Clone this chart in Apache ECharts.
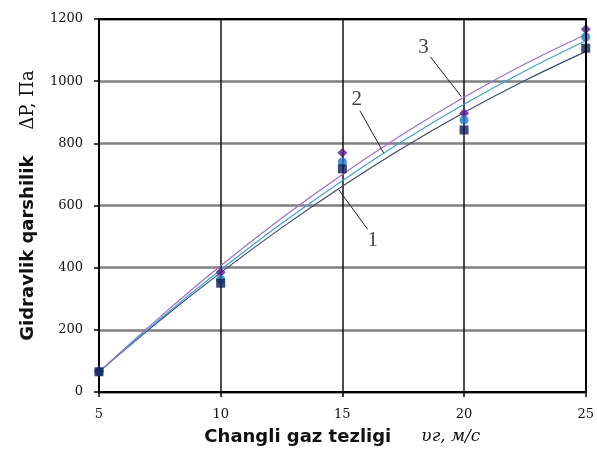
<!DOCTYPE html>
<html>
<head>
<meta charset="utf-8">
<script src="https://cdn.jsdelivr.net/npm/echarts@6/dist/echarts.min.js"></script>
<style>html,body{margin:0;padding:0;background:#fff}#c{width:597px;height:459px}</style>
</head>
<body>
<div id="c"></div>
<script>
// Measured points (x = gas velocity, m/s)
const xPoints = [5, 10, 15, 20, 25];
const pts1 = [65, 350, 718, 843, 1106];   // squares (1)
const pts2 = [65, 362, 740, 875, 1142];   // circles (2)
const pts3 = [68, 385, 770, 897, 1167];   // diamonds (3)

// Trend curves
const xCurve = [5, 7.5, 10, 12.5, 15, 17.5, 20, 22.5, 25];
const curve1 = [65, 230, 384, 528, 662, 786, 899, 1002, 1095];
const curve2 = [65, 234, 393, 542, 680, 808, 926, 1033, 1130];
const curve3 = [65, 241, 406, 559, 700, 830, 948, 1055, 1150];

// Curve labels and their leader lines (data units)
const labelNames = ['1', '2', '3'];
const labelPos = [[16.25, 489], [15.59, 940], [18.33, 1107]];
const leaderFrom = [[16.04, 523], [15.72, 905], [18.62, 1078]];
const leaderTo = [[14.86, 650], [16.70, 769], [19.89, 950]];

const xTicks = {min: 5, max: 25, interval: 5};
const yTicks = {min: 0, max: 1200, interval: 200};

const zip = (xs, ys) => xs.map((x, i) => [x, ys[i]]);

const chart = echarts.init(document.getElementById('c'), null, {renderer: 'canvas'});
const serif = '"DejaVu Serif", "Liberation Serif", serif';
const sans = '"DejaVu Sans", sans-serif';
const plain = v => String(v);

chart.setOption({
  animation: false,
  backgroundColor: '#fff',
  grid: {left: 99, right: 10, top: 19, bottom: 67, containLabel: false},
  xAxis: [{
    type: 'value', min: xTicks.min, max: xTicks.max, interval: xTicks.interval,
    axisLine: {show: true, lineStyle: {color: '#000', width: 2}},
    axisTick: {show: true, length: 5, lineStyle: {color: '#000', width: 1.5}},
    axisLabel: {fontFamily: serif, fontSize: 13, color: '#111', margin: 16, formatter: plain},
    splitLine: {show: true, lineStyle: {color: '#111', width: 1.5}},
    name: '{a|Changli gaz tezligi}{b|υг, м/с}',
    nameLocation: 'middle', nameGap: 36,
    nameTextStyle: {
      rich: {
        a: {fontFamily: sans, fontWeight: 'bold', fontSize: 18, color: '#111'},
        b: {fontFamily: serif, fontStyle: 'italic', fontSize: 17, color: '#111', padding: [0, 0, 0, 30]}
      }
    }
  }, {
    type: 'value', position: 'top', min: xTicks.min, max: xTicks.max, interval: xTicks.interval,
    axisLine: {show: true, onZero: false, lineStyle: {color: '#000', width: 2}},
    axisTick: {show: false}, axisLabel: {show: false}, splitLine: {show: false}, z: 5
  }],
  yAxis: [{
    type: 'value', min: yTicks.min, max: yTicks.max, interval: yTicks.interval,
    axisLine: {show: true, lineStyle: {color: '#000', width: 2}},
    axisTick: {show: true, length: 5, lineStyle: {color: '#000', width: 1.5}},
    axisLabel: {fontFamily: serif, fontSize: 13, color: '#111', margin: 16, formatter: plain},
    splitLine: {show: true, lineStyle: {color: '#808080', width: 2.5}},
    name: '{a|Gidravlik qarshilik}{b|ΔP, Па}',
    nameLocation: 'middle', nameGap: 62,
    nameTextStyle: {
      rich: {
        a: {fontFamily: sans, fontWeight: 'bold', fontSize: 18, color: '#111'},
        b: {fontFamily: serif, fontSize: 18, color: '#111', padding: [0, 0, 0, 26]}
      }
    }
  }, {
    type: 'value', position: 'right', min: yTicks.min, max: yTicks.max, interval: yTicks.interval,
    axisLine: {show: true, onZero: false, lineStyle: {color: '#000', width: 2}},
    axisTick: {show: false}, axisLabel: {show: false}, splitLine: {show: false}, z: 5
  }],
  series: [
    {type: 'line', data: zip(xCurve, curve1), smooth: 0.4, showSymbol: false, silent: true,
      lineStyle: {color: '#3d4a6b', width: 1.2}, z: 3},
    {type: 'line', data: zip(xCurve, curve2), smooth: 0.4, showSymbol: false, silent: true,
      lineStyle: {color: '#3fa0d6', width: 1.2}, z: 3},
    {type: 'line', data: zip(xCurve, curve3), smooth: 0.4, showSymbol: false, silent: true,
      lineStyle: {color: '#9b70c8', width: 1.2}, z: 3},
    {type: 'scatter', data: zip(xPoints, pts3), symbol: 'diamond', symbolSize: 10,
      itemStyle: {color: '#5a1a8c'}, z: 4},
    {type: 'scatter', data: zip(xPoints, pts2), symbol: 'circle', symbolSize: 9,
      itemStyle: {color: '#1f78c8'}, z: 4},
    {type: 'scatter', data: zip(xPoints, pts1), symbol: 'rect', symbolSize: 9,
      itemStyle: {color: '#0c1e5a'}, z: 4},
    {type: 'scatter', symbolSize: 0, silent: true, z: 6,
      data: labelNames.map((n, i) => ({name: n, value: labelPos[i]})),
      label: {show: true, position: 'inside', formatter: p => p.name,
        fontFamily: '"Liberation Serif", serif', fontSize: 21, color: '#111'},
      markLine: {
        silent: true, symbol: ['none', 'none'], label: {show: false},
        lineStyle: {type: 'solid', color: '#222', width: 1},
        data: leaderFrom.map((f, i) => [{coord: f}, {coord: leaderTo[i]}])
      }
    }
  ]
});
</script>
</body>
</html>
